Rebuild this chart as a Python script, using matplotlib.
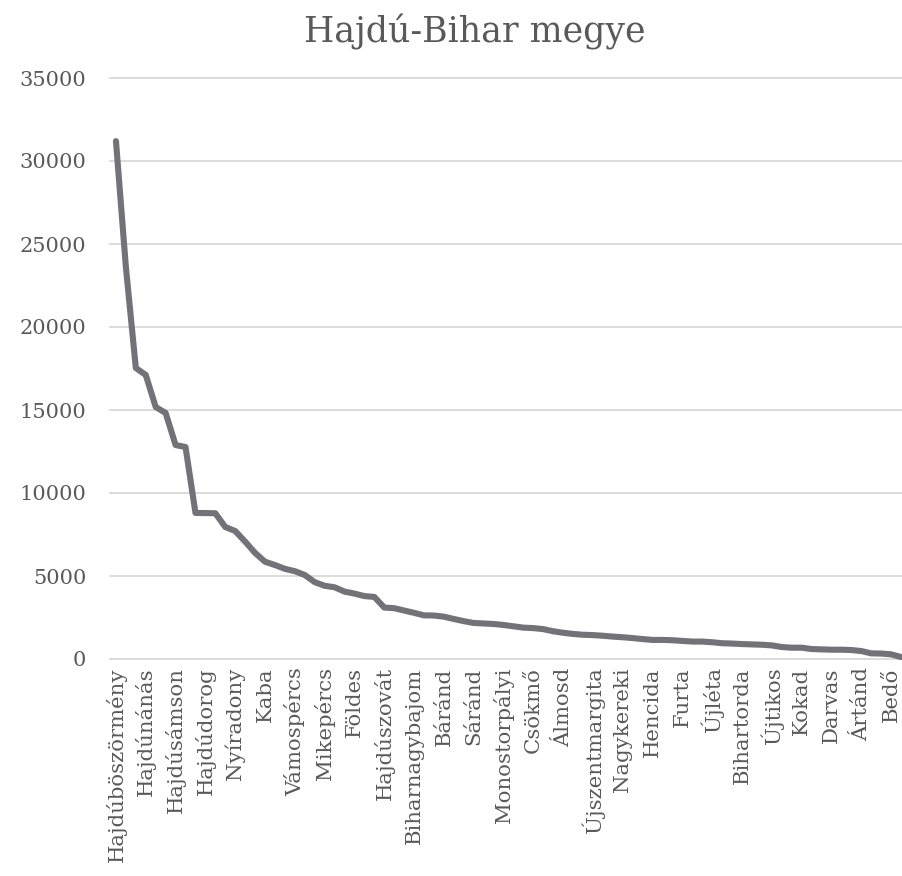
import matplotlib
matplotlib.use("Agg")
import matplotlib.pyplot as plt

title = "Hajdú-Bihar megye"

# Population per settlement (sorted descending)
values = [31200, 23600, 17530, 17110, 15180, 14820, 12890, 12770, 8800, 8790,
          8780, 7950, 7710, 7070, 6390, 5860, 5660, 5430, 5290, 5060,
          4630, 4410, 4320, 4060, 3940, 3790, 3740, 3100, 3060, 2920,
          2780, 2630, 2620, 2550, 2410, 2280, 2170, 2140, 2110, 2050,
          1970, 1890, 1860, 1800, 1670, 1580, 1510, 1460, 1440, 1400,
          1350, 1310, 1260, 1200, 1150, 1150, 1130, 1090, 1050, 1050,
          1010, 950, 930, 900, 880, 860, 820, 720, 680, 680,
          600, 580, 560, 560, 540, 480, 340, 330, 280, 120]

# Visible category labels (every third settlement)
tick_labels = ["Hajdúböszörmény", "Hajdúnánás", "Hajdúsámson", "Hajdúdorog",
               "Nyíradony", "Kaba", "Vámospércs", "Mikepércs", "Földes",
               "Hajdúszovát", "Biharnagybajom", "Báránd", "Sáránd",
               "Monostorpályi", "Csökmő", "Álmosd", "Újszentmargita",
               "Nagykereki", "Hencida", "Furta", "Újléta", "Bihartorda",
               "Újtikos", "Kokad", "Darvas", "Ártánd", "Bedő"]
label_step = 3

y_ticks = [0, 5000, 10000, 15000, 20000, 25000, 30000, 35000]

plt.rcParams['font.family'] = ['DejaVu Serif']
text_color = '#595959'

W, H = 902, 876
fig = plt.figure(figsize=(W / 100, H / 100), dpi=100)
ax = fig.add_axes([110 / W, 1 - 659 / H, (902 - 110) / W, (659 - 78) / H])

x = list(range(len(values)))
ax.plot(x, values, color='#737278', lw=4.4, solid_capstyle='round',
        solid_joinstyle='round', clip_on=False, zorder=3)

ax.set_xlim(-0.6, 79.1)
ax.set_ylim(0, 35000)
ax.set_yticks(y_ticks)
ax.set_yticklabels([str(v) for v in y_ticks])
ax.set_xticks(list(range(0, len(values), label_step))[:len(tick_labels)])
ax.set_xticklabels(tick_labels, rotation=90, ha='center', va='top')

ax.grid(axis='y', color='#d9d9d9', lw=1.3)
ax.grid(axis='x', visible=False)
ax.set_axisbelow(True)
for s in ax.spines.values():
    s.set_visible(False)
for gl in ax.get_ygridlines():
    gl.set_clip_on(False)
ax.tick_params(axis='both', length=0, colors=text_color)
ax.tick_params(axis='y', pad=17, labelsize=15)
ax.tick_params(axis='x', pad=6, labelsize=15.3)

fig.text(475 / W, 1 - 43 / H, title, ha='center', va='baseline',
         fontsize=25, color=text_color)

fig.savefig("out.png", dpi=100)
